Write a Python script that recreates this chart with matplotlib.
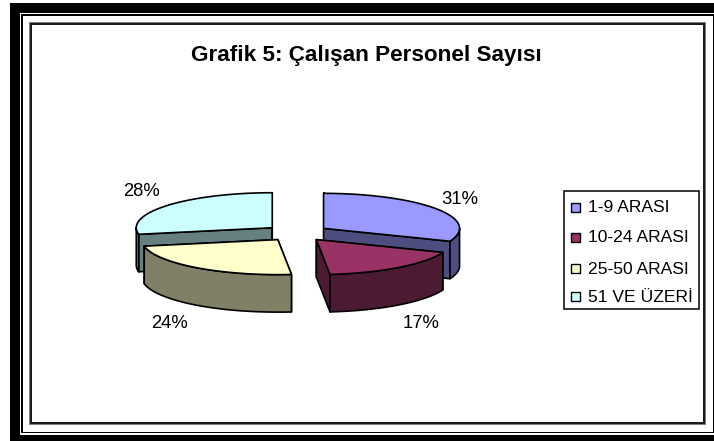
"""Exploded 3D pie: Grafik 5, Calisan Personel Sayisi."""
import numpy as np
import matplotlib
matplotlib.use("Agg")
import matplotlib.pyplot as plt
from matplotlib.patches import Polygon, Rectangle

categories = ["1-9 ARASI", "10-24 ARASI", "25-50 ARASI", "51 VE ÜZERİ"]
shares = [31.0, 17.4, 23.6, 28.0]  # printed rounded on the chart
title = "Grafik 5: Çalışan Personel Sayısı"

top_colors = ["#9999FF", "#993366", "#FFFFCC", "#CCFFFF"]
side_colors = ["#4D4D80", "#4D1A33", "#808066", "#668080"]

# pie layout in image pixels
CX, CY = 297.0, 233.0
RX, RY = 136.0, 35.0
DEPTH = 37.5
EXPLODE = 0.236
LABEL_POS = [(460, 199), (421, 324), (170, 324), (141, 192)]
LEGEND_Y = [207, 237, 268, 296]

plt.rcParams["font.family"] = ["Liberation Sans", "DejaVu Sans"]

fig = plt.figure(figsize=(7.14, 4.41), dpi=100)
ax = fig.add_axes([0, 0, 1, 1])
ax.set_xlim(0, 714)
ax.set_ylim(441, 0)
ax.axis("off")


def block(x0, y0, x1, y1, color="black", z=1):
    ax.add_patch(Rectangle((x0, y0), x1 - x0, y1 - y0, fc=color, ec="none", zorder=z))


# outer double frame
block(10, 3, 714, 13)
block(10, 3, 20, 441)
block(10, 435, 714, 441)
block(21, 14, 714, 16)
block(21, 14, 23, 433)
block(21, 431.5, 714, 433)
block(713, 14, 714, 433)
# chart area border with soft shadow
block(29, 22, 706, 425, "#7f7f7f")
block(30, 23, 705, 424, "#1a1a1a")
block(32, 25, 703, 422, "white")


def rim(center, deg):
    a = np.radians(deg)
    return np.column_stack([center[0] + RX * np.sin(a), center[1] - RY * np.cos(a)])


edges = np.concatenate([[0], np.cumsum(shares)]) * 3.6
slices = []
for i in range(len(shares)):
    mid = np.radians((edges[i] + edges[i + 1]) / 2)
    apex = (CX + EXPLODE * RX * np.sin(mid), CY - EXPLODE * RY * np.cos(mid))
    slices.append((i, apex, edges[i], edges[i + 1]))

# back slices first so the front ones overlap them
for i, apex, a0, a1 in [slices[3], slices[0], slices[2], slices[1]]:
    kw = dict(ec="black", lw=1.2, joinstyle="round", zorder=3)
    down = np.array([0, DEPTH])
    for ang in (a0, a1):
        p = rim(apex, np.array([ang]))[0]
        face = [apex, p, p + down, np.array(apex) + down]
        ax.add_patch(Polygon(face, fc=side_colors[i], **kw))
    lo, hi = max(a0, 90), min(a1, 270)
    if hi > lo:
        arc = rim(apex, np.linspace(lo, hi, 60))
        ax.add_patch(Polygon(np.vstack([arc, arc[::-1] + down]), fc=side_colors[i], **kw))
    arc = rim(apex, np.linspace(a0, a1, 120))
    ax.add_patch(Polygon(np.vstack([[apex], arc]), fc=top_colors[i], **kw))

for share, (x, y) in zip(shares, LABEL_POS):
    ax.text(x, y, f"{share:.0f}%", ha="center", va="center", fontsize=13.3, color="black", zorder=5)

ax.text(366.5, 55.5, title, ha="center", va="center", fontsize=16.2, fontweight="bold", zorder=5)

# legend
ax.add_patch(Rectangle((564, 191), 135, 118, fc="white", ec="black", lw=1.1, zorder=4))
for name, color, y in zip(categories, top_colors, LEGEND_Y):
    ax.add_patch(Rectangle((571, y - 4.5), 9, 9, fc=color, ec="black", lw=1.0, zorder=5))
    ax.text(588, y + 1, name, ha="left", va="center", fontsize=12.6, zorder=5)

fig.savefig("out.png", dpi=100)
